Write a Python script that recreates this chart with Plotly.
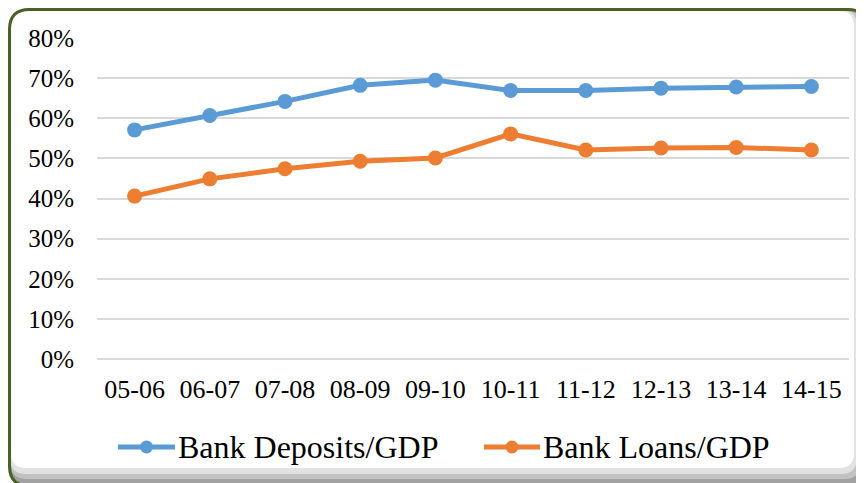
import plotly.graph_objects as go

categories = ["05-06", "06-07", "07-08", "08-09", "09-10", "10-11", "11-12", "12-13", "13-14", "14-15"]
deposits = [57.1, 60.7, 64.2, 68.2, 69.5, 66.9, 66.9, 67.5, 67.8, 67.9]
loans = [40.6, 44.9, 47.4, 49.3, 50.1, 56.1, 52.1, 52.6, 52.7, 52.1]
y_ticks = [0, 10, 20, 30, 40, 50, 60, 70, 80]
series_names = ["Bank Deposits/GDP", "Bank Loans/GDP"]
colors = ["#5B9BD5", "#ED7D31"]

# page body has an 8px margin; size the figure so it ends at the window edge
OFF = 8
W, H = 864 - OFF, 483 - OFF
ML, MR, MT, MB = 97 - OFF, 15, 38 - OFF, 124
PW, PH = W - ML - MR, H - MT - MB


def px(x):  # x in window pixels -> paper
    return (x - OFF - ML) / PW


def py(y):  # y in window pixels -> paper
    return (H - MB - (y - OFF)) / PH


def rrect(x0, y0, x1, y1, r):
    def P(x, y):
        return f"{px(x):.5f},{py(y):.5f}"
    return (f"M {P(x0 + r, y0)} L {P(x1 - r, y0)} Q {P(x1, y0)} {P(x1, y0 + r)} "
            f"L {P(x1, y1 - r)} Q {P(x1, y1)} {P(x1 - r, y1)} "
            f"L {P(x0 + r, y1)} Q {P(x0, y1)} {P(x0, y1 - r)} "
            f"L {P(x0, y0 + r)} Q {P(x0, y0)} {P(x0 + r, y0)} Z")


FONT = "Liberation Serif, Times New Roman, serif"

fig = go.Figure()
for name, vals, c in zip(series_names, [deposits, loans], colors):
    fig.add_trace(go.Scatter(
        x=categories, y=vals, name=name, mode="lines+markers",
        line=dict(color=c, width=5),
        marker=dict(color=c, size=15),
        showlegend=False, cliponaxis=False,
    ))

shapes = []
shapes.append(dict(type="path", path=rrect(9.5, 9.5, 868, 486, 20), xref="paper", yref="paper",
                   fillcolor="#A2A2A2", line=dict(width=0), layer="below"))
shapes.append(dict(type="path", path=rrect(10, 10, 861, 479, 17), xref="paper", yref="paper",
                   fillcolor="#C2C2C2", line=dict(width=0), layer="below"))
shapes.append(dict(type="path", path=rrect(10, 10, 857, 474, 16), xref="paper", yref="paper",
                   fillcolor="#E2E2E2", line=dict(width=0), layer="below"))
shapes.append(dict(type="path", path=rrect(11, 11, 854, 468, 15), xref="paper", yref="paper",
                   fillcolor="#FFFFFF", line=dict(width=0), layer="below"))
shapes.append(dict(type="path", path=rrect(9.5, 9.5, 868, 486, 20), xref="paper", yref="paper",
                   fillcolor="rgba(0,0,0,0)", line=dict(color="#476127", width=3), layer="above"))

legend_items = [(118, 175, 176), (484, 540, 541)]
annotations = []
LY = 447
for (lx0, lx1, tx), name, c in zip(legend_items, series_names, colors):
    shapes.append(dict(type="line", xref="paper", yref="paper", x0=px(lx0), x1=px(lx1),
                       y0=py(LY), y1=py(LY), line=dict(color=c, width=5), layer="above"))
    cx = (lx0 + lx1) / 2
    r = 6.5
    shapes.append(dict(type="circle", xref="paper", yref="paper", x0=px(cx - r), x1=px(cx + r),
                       y0=py(LY + r), y1=py(LY - r), fillcolor=c, line=dict(width=0), layer="above"))
    annotations.append(dict(x=px(tx), y=py(LY), xref="paper", yref="paper", text=name,
                            showarrow=False, xanchor="left", yanchor="middle",
                            font=dict(family=FONT, size=32, color="#000000")))

fig.update_layout(
    width=W, height=H,
    margin=dict(l=ML, r=MR, t=MT, b=MB, pad=0),
    paper_bgcolor="#FFFFFF", plot_bgcolor="rgba(0,0,0,0)",
    shapes=shapes, annotations=annotations,
    showlegend=False,
    xaxis=dict(type="category", range=[-0.5, 9.5], showgrid=False, zeroline=False, showline=False,
               ticks="", tickfont=dict(family=FONT, size=26, color="#000000"),
               ticklabelstandoff=12, fixedrange=True),
    yaxis=dict(range=[0, 80], tickvals=y_ticks, ticktext=[f"{v}%" for v in y_ticks],
               showgrid=True, gridcolor="#D9D9D9", gridwidth=1.5,
               zeroline=True, zerolinecolor="#D9D9D9", zerolinewidth=1.5, showline=False,
               ticks="", tickfont=dict(family=FONT, size=25, color="#000000"),
               ticklabelstandoff=22, fixedrange=True),
)

fig.write_html("out.html")
